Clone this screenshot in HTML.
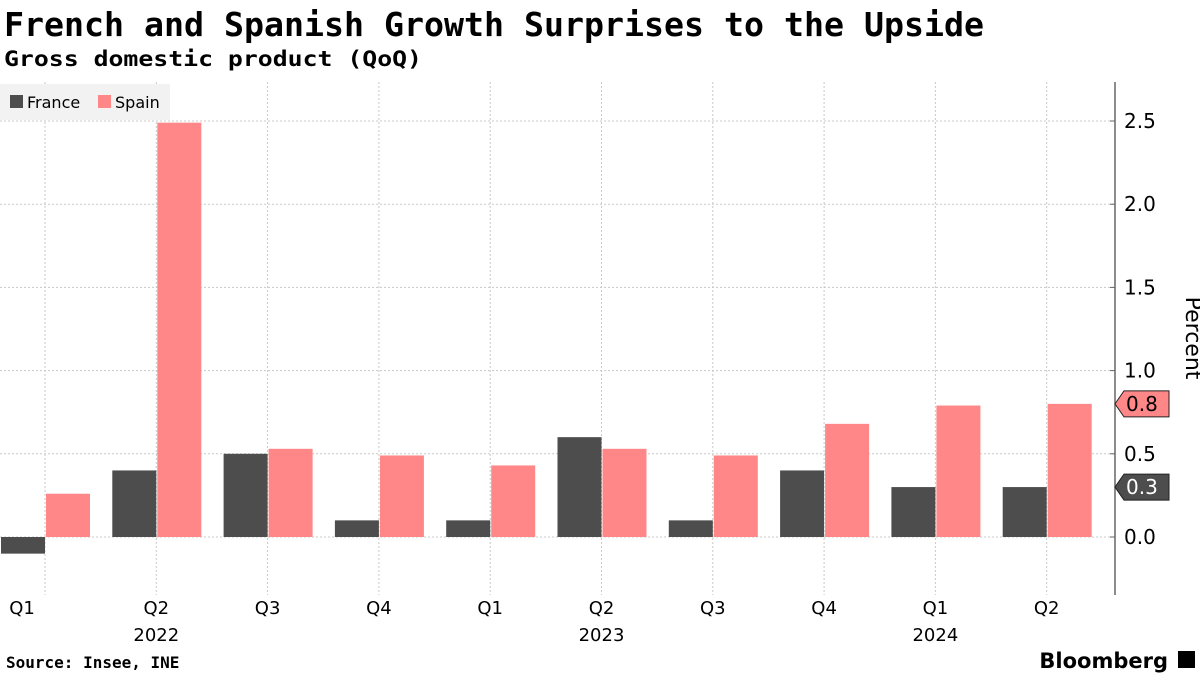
<!DOCTYPE html>
<html><head><meta charset="utf-8"><style>
body{margin:0;background:#fff;width:1200px;height:675px;overflow:hidden;font-family:"DejaVu Sans","Liberation Sans",sans-serif}
</style></head><body>
<svg width="1200" height="675" xmlns="http://www.w3.org/2000/svg">
<text x="4" y="36" font-size="33" font-weight="bold" fill="#000" font-family="DejaVu Sans Mono, Liberation Mono, monospace" textLength="980" lengthAdjust="spacingAndGlyphs">French and Spanish Growth Surprises to the Upside</text>
<text x="4" y="66" font-size="21" font-weight="bold" fill="#000" font-family="DejaVu Sans Mono, Liberation Mono, monospace" textLength="418" lengthAdjust="spacingAndGlyphs">Gross domestic product (QoQ)</text>
<g id="grid"></g>
<g id="bars"></g>
<g id="axis"></g>
<rect x="0" y="84" width="170" height="36" fill="#f2f2f2"/>
<rect x="10" y="95" width="13" height="13" fill="#4d4d4d"/>
<text x="27" y="108" font-size="16" fill="#000">France</text>
<rect x="98" y="95" width="13" height="13" fill="#ff8787"/>
<text x="115" y="108" font-size="16" fill="#000">Spain</text>
<text x="1186" y="338" font-size="22" fill="#000" transform="rotate(90 1186 338)" text-anchor="middle">Percent</text>
<text x="6" y="668" font-size="16" font-weight="bold" fill="#000" font-family="DejaVu Sans Mono, Liberation Mono, monospace">Source: Insee, INE</text>
<text x="1168" y="668" font-size="21" font-weight="bold" fill="#000" text-anchor="end">Bloomberg</text>
<rect x="1178" y="651" width="17" height="17" fill="#000"/>
</svg>
<script>
const categories=["Q1","Q2","Q3","Q4","Q1","Q2","Q3","Q4","Q1","Q2"];
const years=["2022","2023","2024"];
const yearIdx=[1,5,8];
const france=[-0.1,0.4,0.5,0.1,0.1,0.6,0.1,0.4,0.3,0.3];
const spain=[0.26,2.49,0.53,0.49,0.43,0.53,0.49,0.68,0.79,0.8];
const yTicks=[0,0.5,1,1.5,2,2.5];
const NS="http://www.w3.org/2000/svg";
const y=v=>537-v*166.4;
const x=i=>45+i*111.3;
function mk(tag,attrs,parent,text){const e=document.createElementNS(NS,tag);for(const k in attrs)e.setAttribute(k,attrs[k]);if(text!==undefined)e.textContent=text;document.getElementById(parent).appendChild(e);return e;}
yTicks.forEach(t=>{
 const g=mk('line',{x1:0,x2:1115,y1:y(t),y2:y(t),stroke:'#c8c8c8','stroke-dasharray':'2,2'},'grid');
 
 
 const tk=mk('line',{x1:1110,x2:1115,y1:y(t),y2:y(t),stroke:'#666'},'axis');
 
 
 const l=mk('text',{x:1124,y:y(t)+7,'font-size':20,fill:'#000'},'axis',t.toFixed(1));
 
 
});
categories.forEach((c,i)=>{
 const g=mk('line',{x1:x(i)+111.3/2+55.6-55.6,x2:x(i),y1:82,y2:595,stroke:'#c8c8c8','stroke-dasharray':'2,2'},'grid');
 g.setAttribute('x1',x(i));
 
 
 const fv=france[i],sv=spain[i];
 const fb=mk('rect',{x:x(i)-44,y:Math.min(y(fv),y(0)),width:44,height:Math.abs(y(fv)-y(0)),fill:'#4d4d4d'},'bars');
 
 
 const sb=mk('rect',{x:x(i)+1,y:Math.min(y(sv),y(0)),width:44,height:Math.abs(y(sv)-y(0)),fill:'#ff8787'},'bars');
 
 
 const lx=i===0?22:x(i);
 const t=mk('text',{x:lx,y:614,'font-size':18,fill:'#000','text-anchor':'middle'},'axis',c);
 
 
});
years.forEach((yr,k)=>{
 const t=mk('text',{x:x(yearIdx[k]),y:641,'font-size':18,fill:'#000','text-anchor':'middle'},'axis',yr);
 
 
});
const ax=mk('line',{x1:1115,x2:1115,y1:82,y2:595,stroke:'#666','stroke-width':1.5},'axis');


function tag(v,fill,col,name){
 const yy=y(v);
 const p=mk('polygon',{points:`1115,${yy} 1124,${yy-13} 1169,${yy-13} 1169,${yy+13} 1124,${yy+13}`,fill:fill,stroke:'#222'},'axis');
 
 
 const t=mk('text',{x:1126,y:yy+7,'font-size':20,fill:col},'axis',v.toFixed(1));
 
 
}
tag(spain[spain.length-1],'#ff8787','#000','spain-last-value');
tag(france[france.length-1],'#4d4d4d','#fff','france-last-value');
</script>
</body></html>
